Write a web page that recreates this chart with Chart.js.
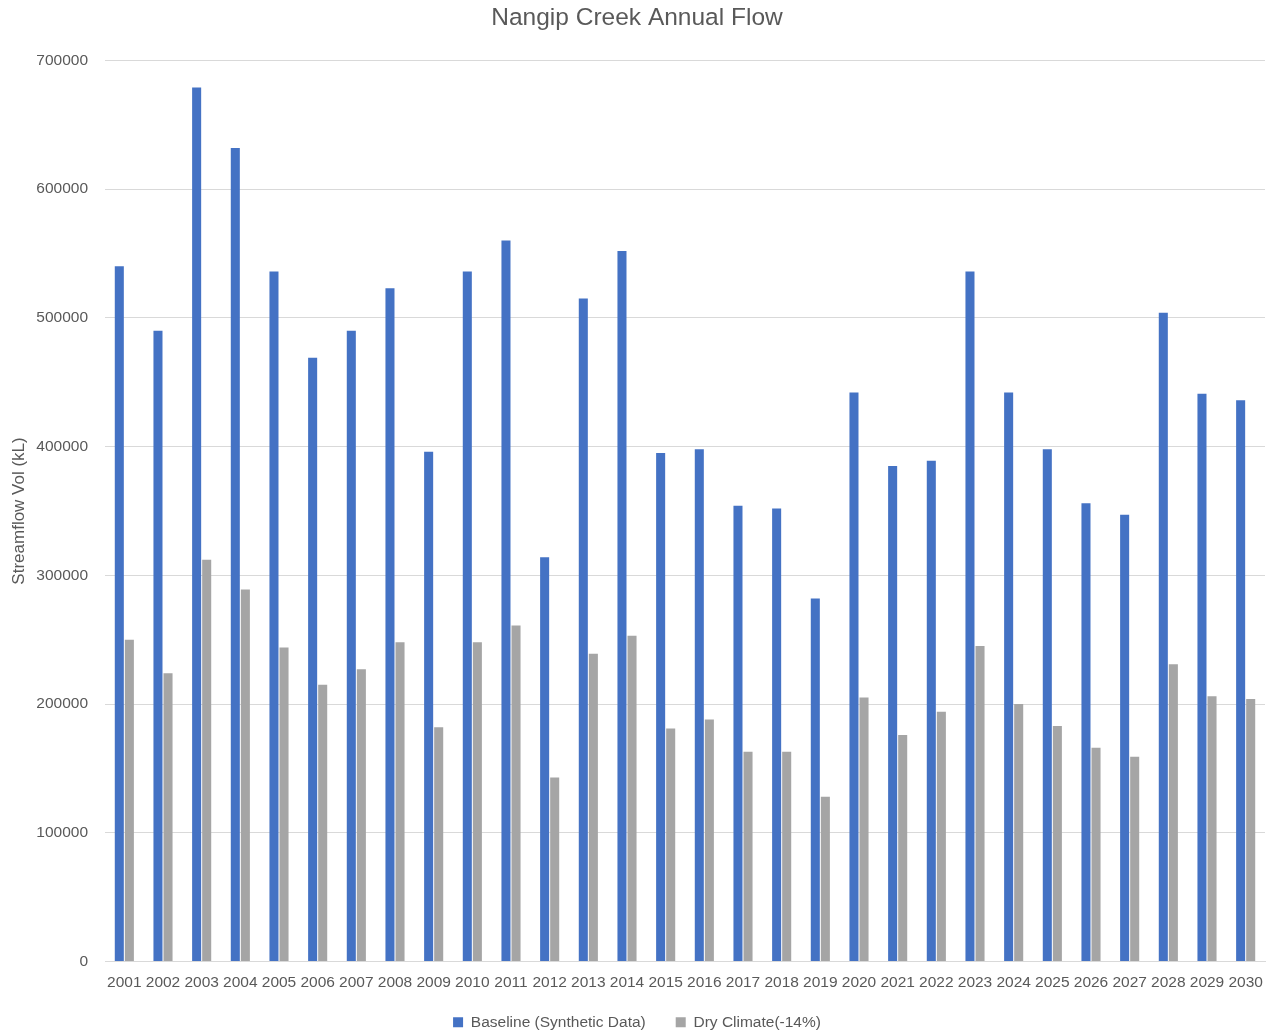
<!DOCTYPE html>
<html>
<head>
<meta charset="utf-8">
<script src="https://cdn.jsdelivr.net/npm/chart.js@4/dist/chart.umd.min.js"></script>
<style>
  html, body { margin: 0; padding: 0; background: #ffffff; overflow: hidden; }
  #wrap { width: 1266px; height: 1034px; }
</style>
</head>
<body>
<div id="wrap"><canvas id="flow" width="1266" height="1034"></canvas></div>
<script>
const years = ['2001','2002','2003','2004','2005','2006','2007','2008','2009','2010',
  '2011','2012','2013','2014','2015','2016','2017','2018','2019','2020',
  '2021','2022','2023','2024','2025','2026','2027','2028','2029','2030'];

const baseline = [540000, 490000, 679000, 632000, 536000, 469000, 490000, 523000, 396000, 536000,
  560000, 314000, 515000, 552000, 395000, 398000, 354000, 352000, 282000, 442000,
  385000, 389000, 536000, 442000, 398000, 356000, 347000, 504000, 441000, 436000];

const dryClimate = [250000, 224000, 312000, 289000, 244000, 215000, 227000, 248000, 182000, 248000,
  261000, 143000, 239000, 253000, 181000, 188000, 163000, 163000, 128000, 205000,
  176000, 194000, 245000, 200000, 183000, 166000, 159000, 231000, 206000, 204000];

const yTicks = [0, 100000, 200000, 300000, 400000, 500000, 600000, 700000];

const textColor = '#595959';
const fontFamily = "'Liberation Sans', 'DejaVu Sans', sans-serif";

new Chart(document.getElementById('flow'), {
  type: 'bar',
  data: {
    labels: years,
    datasets: [
      { label: 'Baseline (Synthetic Data)', data: baseline, backgroundColor: '#4472c4',
        borderWidth: 0, barPercentage: 0.9, categoryPercentage: 0.52 },
      { label: 'Dry Climate(-14%)', data: dryClimate, backgroundColor: '#a5a5a5',
        borderWidth: 0, barPercentage: 0.9, categoryPercentage: 0.52 }
    ]
  },
  options: {
    responsive: false,
    animation: false,
    devicePixelRatio: 1,
    // the legend row hangs a little below the canvas box so its text sits low
    layout: { padding: { left: 9, right: 1, top: 4, bottom: -6 } },
    plugins: {
      title: {
        display: true,
        text: 'Nangip Creek Annual Flow',
        color: textColor,
        font: { family: fontFamily, size: 24.5, weight: 'normal' },
        padding: { top: 0, bottom: 27 }
      },
      legend: {
        position: 'bottom',
        labels: {
          color: textColor,
          font: { family: fontFamily, size: 15.5 },
          boxWidth: 10,
          boxHeight: 10,
          padding: 30
        }
      },
      tooltip: { enabled: false }
    },
    scales: {
      x: {
        afterFit: (scale) => {
          scale.height = 23;
          scale.paddingLeft = 0;
          scale.paddingRight = 0;
          // year labels run past the short axis box, so draw them unclipped
          scale._computeLabelArea = () => undefined;
        },
        grid: { display: false, drawTicks: false },
        border: { display: true, color: '#d9d9d9', width: 1 },
        ticks: { color: textColor, font: { family: fontFamily, size: 15.5 }, padding: 12,
                 maxRotation: 0, autoSkip: false }
      },
      y: {
        min: 0,
        max: 700000,
        afterBuildTicks: (scale) => { scale.ticks = yTicks.map(v => ({ value: v })); },
        afterFit: (scale) => { scale.width = 96; },
        grid: { color: '#d9d9d9', lineWidth: 1, drawTicks: false },
        border: { display: false },
        ticks: { color: textColor, font: { family: fontFamily, size: 15.5 }, padding: 17,
                 callback: (v) => String(v) },
        title: {
          display: true,
          text: 'Streamflow Vol (kL)',
          color: textColor,
          font: { family: fontFamily, size: 17 },
          padding: { top: 0, bottom: 4 }
        }
      }
    }
  }
});
</script>
</body>
</html>
